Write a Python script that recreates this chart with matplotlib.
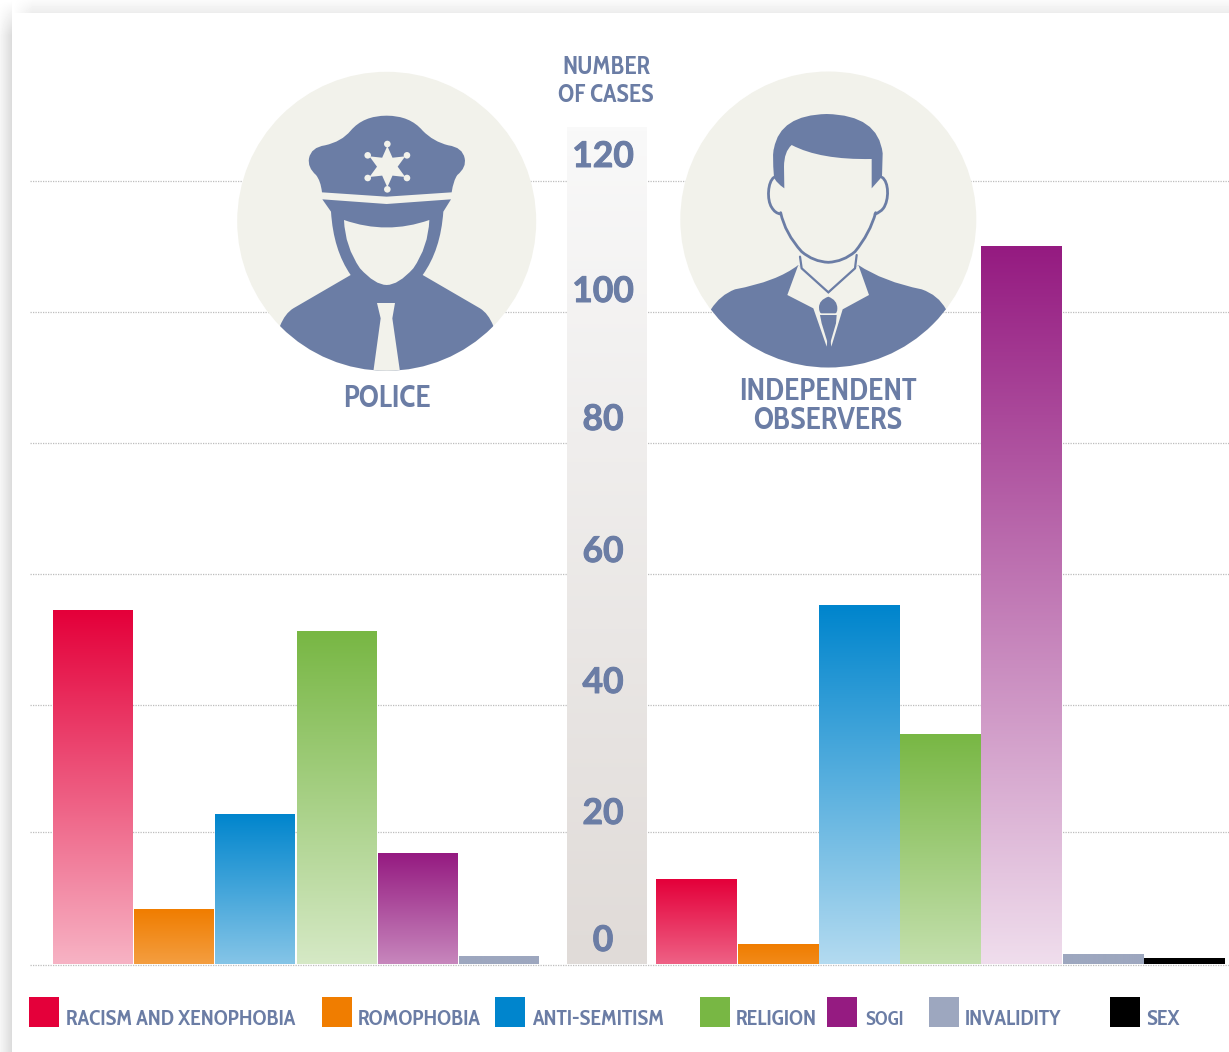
import re
import numpy as np
import matplotlib
matplotlib.use('Agg')
import matplotlib.pyplot as plt
import matplotlib.patheffects as pe
from matplotlib.path import Path
from matplotlib.patches import Circle, PathPatch, Rectangle

# chart data
police_values = [54.2, 8.4, 23, 51, 17, 1.2]
observer_values = [13, 3, 55, 35.3, 110, 1.5, 0.9]
categories = ['RACISM AND XENOPHOBIA', 'ROMOPHOBIA', 'ANTI-SEMITISM', 'RELIGION',
              'SOGI', 'INVALIDITY', 'SEX']
colours = ['#e4003a', '#f07d00', '#0085cd', '#78b744', '#951b81', '#9da7bf', '#000000']
tick_labels = ['0', '20', '40', '60', '80', '100', '120']
grid_levels = [0, 20.3, 39.7, 59.8, 79.9, 100, 120]

# layout, in reference pixels
W, H = 1229, 1052
TEXT = '#6b7da5'
CREAM = '#f2f2eb'
FONT = 'Lato'
NARROW_FONT = ['Cabin Condensed', 'Lato']
tick_label_y = [941, 814, 683, 552, 420, 292, 157]
swatch_x = [29, 322, 495, 700, 827, 929, 1110]
legend_text_x = [66, 358, 532, 736, 865, 965, 1146]
# how far each bar fades to white at its foot, by bar height
fade_height = [0, 3, 8, 13, 17, 23, 35, 51, 55, 110]
fade_amount = [0, .1, .24, .38, .47, .52, .56, .69, .7, .85]


def axes_at(x0, x1, y0, y1, **kw):
    return fig.add_axes([x0 / W, 1 - y1 / H, (x1 - x0) / W, (y1 - y0) / H], **kw)


def shape(d, zoom_origin, **kw):
    # small svg style path in zoom crop coordinates (3x)
    toks = re.findall(r'[MLQCZ]|-?\d+\.?\d*', d)
    verts, codes, i = [], [], 0
    sizes = {'M': (1, Path.MOVETO), 'L': (1, Path.LINETO), 'Q': (2, Path.CURVE3), 'C': (3, Path.CURVE4)}
    while i < len(toks):
        t = toks[i]
        i += 1
        if t == 'Z':
            verts.append((0, 0))
            codes.append(Path.CLOSEPOLY)
            continue
        n, code = sizes[t]
        for _ in range(n):
            verts.append((zoom_origin[0] + float(toks[i]) / 3, zoom_origin[1] + float(toks[i + 1]) / 3))
            codes.append(code)
            i += 2
    return PathPatch(Path(verts, codes), **kw)


def draw_police(ax):
    o = (230, 60)
    disc = Circle((386.7, 221.3), 149.5, fc=CREAM, ec='none')
    ax.add_patch(disc)

    def add(d, col=TEXT):
        p = shape(d, o, fc=col, ec='none')
        ax.add_patch(p)
        p.set_clip_path(disc)

    add('M 276 397 Q 272 362 258 345 Q 232 322 237 295 Q 243 262 285 256 Q 335 245 362 212 '
        'Q 400 167 470 167 Q 540 167 578 212 Q 610 245 655 256 Q 698 262 704 295 '
        'Q 710 322 682 345 Q 670 362 665 397 L 470 410 Z')
    add('M 150 798 Q 165 760 190 745 L 362 645 Q 310 570 303 455 L 277 418 L 470 432 L 663 418 '
        'L 640 455 Q 632 570 578 645 L 750 745 Q 775 760 790 798 L 790 945 L 150 945 Z')
    add('M 342 480 Q 470 525 598 480 Q 595 560 550 625 Q 505 675 470 675 Q 435 675 390 625 Q 345 560 342 480 Z', CREAM)
    add('M 441 729 L 495 729 L 487 775 L 510 935 L 430 935 L 452 775 Z', CREAM)
    # badge
    ang = np.deg2rad(np.arange(90, 450, 30))
    rad = np.where(np.arange(12) % 2 == 0, 62, 31)
    cx, cy = 472, 320
    pts = [(o[0] + (cx + r * np.cos(a)) / 3, o[1] + (cy - r * np.sin(a)) / 3) for a, r in zip(ang, rad)]
    ax.fill(*zip(*pts), fc=CREAM, ec='none')
    for a in ang[::2]:
        ax.add_patch(Circle((o[0] + (cx + 68 * np.cos(a)) / 3, o[1] + (cy - 68 * np.sin(a)) / 3), 3.3, fc=CREAM, ec='none'))


def draw_observer(ax):
    o = (670, 60)
    disc = Circle((828.3, 219.5), 148, fc=CREAM, ec='none')
    ax.add_patch(disc)

    def add(d, col=TEXT):
        p = shape(d, o, fc=col, ec='none')
        ax.add_patch(p)
        p.set_clip_path(disc)

    def stroke(d, lw=2):
        ax.add_patch(shape(d, o, fc='none', ec=TEXT, lw=lw, capstyle='round'))

    add('M 123 748 Q 150 705 195 688 Q 320 665 385 615 L 475 700 L 565 615 Q 640 665 755 688 '
        'Q 805 705 828 748 L 828 930 L 123 930 Z')
    add('M 385 615 L 352 705 L 430 745 L 470 860 L 476 800 L 484 860 L 518 748 L 597 705 L 565 615 L 475 700 Z', CREAM)
    add('M 475 710 Q 502 720 502 745 Q 502 760 495 760 L 455 760 Q 447 760 447 742 Q 447 720 475 710 Z')
    add('M 450 765 L 500 765 L 498 790 L 477 862 L 455 790 Z')
    add('M 343 385 Q 318 368 312 352 Q 306 280 312 265 Q 330 165 470 162 Q 625 165 638 280 '
        'L 636 350 L 605 385 L 605 297 Q 450 300 365 255 Q 342 275 342 320 Z')
    stroke('M 312 352 C 293 365 290 420 305 442 Q 315 460 332 462')
    stroke('M 636 352 C 657 365 658 420 640 445 Q 630 458 615 462')
    stroke('M 332 458 Q 345 520 395 575 Q 430 605 475 607 Q 520 605 555 575 Q 600 520 617 458')
    stroke('M 390 590 L 395 625 L 475 697 L 555 625 L 560 585', lw=1.6)


def gradient_bars(ax, values, cols):
    x = np.arange(len(values))
    bars = ax.bar(x, values, width=0.985, color=cols, linewidth=0)
    for bar, v, c in zip(bars, values, cols):
        top = np.array(matplotlib.colors.to_rgb(c))
        f = np.interp(v, fade_height, fade_amount)
        if c in colours[-2:]:
            f = 0
        t = np.linspace(0, f, 100)[:, None]
        img = (top * (1 - t) + t)[:, None, :]
        im = ax.imshow(img, extent=(bar.get_x(), bar.get_x() + bar.get_width(), 0, v),
                       aspect='auto', origin='upper', interpolation='bilinear', zorder=3)
        im.set_clip_path(bar)
    ax.set_xlim(-0.5, len(values) - 0.5)
    ax.set_ylim(0, 120)
    ax.axis('off')


fig = plt.figure(figsize=(W / 100, H / 100), dpi=100, facecolor='white')

# dotted gridlines run behind band and icons
ax_grid = axes_at(30, W, 181, 964.5, zorder=1)
ax_grid.set_ylim(0, 120)
ax_grid.set_xticks([])
ax_grid.set_yticks(grid_levels)
ax_grid.tick_params(left=False, labelleft=False)
ax_grid.grid(axis='y', color='#bdbdbd', lw=0.9, ls=(0, (1, 1)), clip_on=False)
for s in ax_grid.spines.values():
    s.set_visible(False)

# decoration layer in pixel coordinates
ax = fig.add_axes([0, 0, 1, 1], zorder=2)
ax.patch.set_alpha(0)

# page shadow
left = 255 - np.linspace(9, 35, 12)[None, :] * np.clip(np.arange(H) / 35, 0, 1)[:, None]
ax.imshow(left / 255, cmap='gray', vmin=0, vmax=1, extent=(0, 12, H, 0), aspect='auto', zorder=1)
topb = 255 - np.linspace(4, 18, 13)[:, None] * np.clip(np.arange(W - 12) / 20, 0, 1)[None, :]
ax.imshow(topb / 255, cmap='gray', vmin=0, vmax=1, extent=(12, W, 13, 0), aspect='auto', zorder=1)

# central scale band
band_top = np.array(matplotlib.colors.to_rgb('#f9f9f9'))
band_bot = np.array(matplotlib.colors.to_rgb('#e0dbd8'))
t = np.linspace(0, 1, 200)[:, None]
ax.imshow((band_top * (1 - t) + band_bot * t)[:, None, :], extent=(567, 647, 964, 127), aspect='auto', zorder=1)

draw_police(ax)
draw_observer(ax)

# thicken the scale digits a little, Lato bold reads too light here
heavy = [pe.withStroke(linewidth=0.7, foreground=TEXT)]
for y, lab in zip(tick_label_y, tick_labels):
    ax.text(603, y, lab, color=TEXT, fontsize=25.5, fontweight='bold', family=FONT,
            ha='center', va='center', path_effects=heavy)
for y, lab in [(68, 'NUMBER'), (95, 'OF CASES')]:
    ax.text(606, y, lab, color=TEXT, fontsize=17.8, fontweight='bold', family=NARROW_FONT, ha='center', va='center')
ax.text(387, 399, 'POLICE', color=TEXT, fontsize=22, fontweight='bold', family=NARROW_FONT, ha='center', va='center')
for y, lab in [(392, 'INDEPENDENT'), (421, 'OBSERVERS')]:
    ax.text(828, y, lab, color=TEXT, fontsize=22, fontweight='bold', family=NARROW_FONT, ha='center', va='center')

# legend
for name, c, sx, tx in zip(categories, colours, swatch_x, legend_text_x):
    ax.add_patch(Rectangle((sx, 997), 30, 30, fc=c, ec='none'))
    size = 14 if name == 'SOGI' else 15.5
    ax.text(tx, 1025, name, color=TEXT, fontsize=size, fontweight='bold', family=NARROW_FONT, ha='left', va='baseline')

ax.set_xlim(0, W)
ax.set_ylim(H, 0)
ax.axis('off')

# bars, on top of everything
ax_police = axes_at(52.4, 539.5, 181, 964, zorder=3)
ax_police.patch.set_alpha(0)
gradient_bars(ax_police, police_values, colours[:6])
ax_observers = axes_at(655.8, 1224.6, 181, 964, zorder=3)
ax_observers.patch.set_alpha(0)
gradient_bars(ax_observers, observer_values, colours)

fig.savefig('out.png', dpi=100)
